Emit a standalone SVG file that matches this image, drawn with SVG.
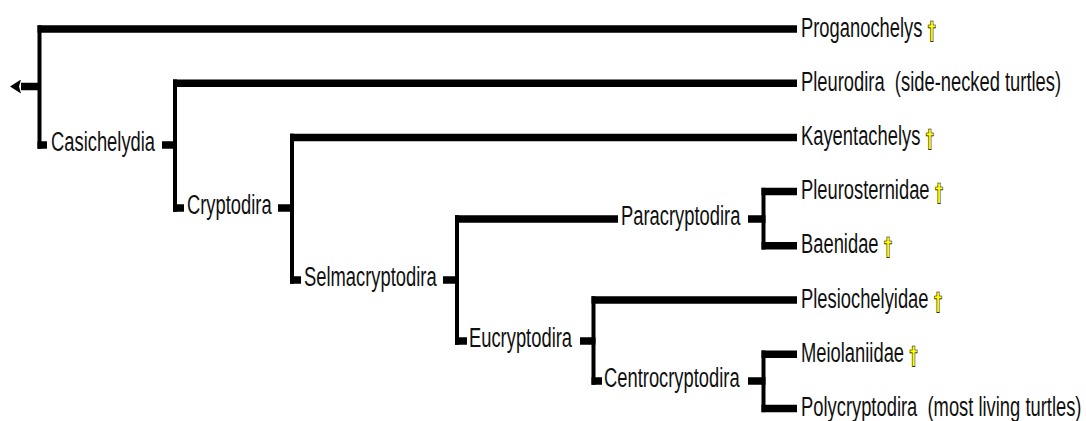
<svg xmlns="http://www.w3.org/2000/svg" width="1086" height="421" viewBox="0 0 1086 421">
<style>
  .bg { fill: #ffffff; }
  .h { fill: none; stroke: #000; stroke-width: 7.5; stroke-linecap: butt; }
  .v { fill: none; stroke: #000; stroke-width: 4; stroke-linecap: butt; }
  text { font-family: "Liberation Sans", Arial, sans-serif; font-size: 27px; fill: #111; }
  .dag { font-family: "DejaVu Sans", sans-serif; font-weight: bold; font-size: 24px; fill: #ffff00; stroke: #000; stroke-width: 0.7px; }
</style>
<defs>
  <marker id="arrow" markerUnits="userSpaceOnUse" markerWidth="11" markerHeight="14" viewBox="0 0 11 14" refX="0" refY="7" orient="auto">
    <path d="M0,0 L11,7 L0,14 L2,7 Z" fill="#000"/>
  </marker>
</defs>
<rect class="bg" x="0" y="0" width="1086" height="421"/>
<g id="connectors">
  <path class="h" d="M39.5,86.5 H21" marker-end="url(#arrow)"/>
  <path class="v" d="M39.5,25.25 V148.75"/>
  <path class="h" d="M37.5,29 H797"/>
  <path class="h" d="M37.5,145 H47"/>
  <path class="h" d="M162,145 H177"/>
  <path class="v" d="M175,79.45 V211.75"/>
  <path class="h" d="M173,83.2 H797"/>
  <path class="h" d="M173,208 H184"/>
  <path class="h" d="M278,208 H294"/>
  <path class="v" d="M292,133.65 V283.75"/>
  <path class="h" d="M290,137.4 H797"/>
  <path class="h" d="M290,280 H301"/>
  <path class="h" d="M443,280 H459"/>
  <path class="v" d="M457,215.25 V344.75"/>
  <path class="h" d="M455,219 H618"/>
  <path class="h" d="M455,341 H467"/>
  <path class="h" d="M748,219 H765.5"/>
  <path class="v" d="M763.5,187.85 V249.55"/>
  <path class="h" d="M761.5,191.6 H797"/>
  <path class="h" d="M761.5,245.8 H797"/>
  <path class="h" d="M580,341 H595.5"/>
  <path class="v" d="M593.5,296.25 V384.75"/>
  <path class="h" d="M591.5,300 H797"/>
  <path class="h" d="M591.5,381 H602"/>
  <path class="h" d="M748,381 H765.5"/>
  <path class="v" d="M763.5,350.45 V412.15"/>
  <path class="h" d="M761.5,354.2 H797"/>
  <path class="h" d="M761.5,408.4 H797"/>
</g>
<g id="node-proganochelys"><text transform="translate(801,36.5) scale(0.68,1)">Proganochelys<tspan class="dag" dx="8" dy="2">†</tspan></text></g>
<g id="node-pleurodira"><text transform="translate(801,90.7) scale(0.68,1)" xml:space="preserve">Pleurodira  (side-necked turtles)</text></g>
<g id="node-kayentachelys"><text transform="translate(801,145) scale(0.68,1)">Kayentachelys<tspan class="dag" dx="8" dy="2">†</tspan></text></g>
<g id="node-pleurosternidae"><text transform="translate(801,199) scale(0.68,1)">Pleurosternidae<tspan class="dag" dx="8" dy="2">†</tspan></text></g>
<g id="node-baenidae"><text transform="translate(801,253.3) scale(0.68,1)">Baenidae<tspan class="dag" dx="8" dy="2">†</tspan></text></g>
<g id="node-plesiochelyidae"><text transform="translate(801,307.5) scale(0.68,1)">Plesiochelyidae<tspan class="dag" dx="8" dy="2">†</tspan></text></g>
<g id="node-meiolaniidae"><text transform="translate(801,361.7) scale(0.68,1)">Meiolaniidae<tspan class="dag" dx="8" dy="2">†</tspan></text></g>
<g id="node-polycryptodira"><text transform="translate(801,416) scale(0.68,1)" xml:space="preserve">Polycryptodira  (most living turtles)</text></g>
<g id="node-casichelydia"><text transform="translate(51,151) scale(0.68,1)">Casichelydia</text></g>
<g id="node-cryptodira"><text transform="translate(187,214) scale(0.68,1)">Cryptodira</text></g>
<g id="node-selmacryptodira"><text transform="translate(304,286) scale(0.68,1)">Selmacryptodira</text></g>
<g id="node-paracryptodira"><text transform="translate(621,225) scale(0.68,1)">Paracryptodira</text></g>
<g id="node-eucryptodira"><text transform="translate(469,347) scale(0.68,1)">Eucryptodira</text></g>
<g id="node-centrocryptodira"><text transform="translate(604,387) scale(0.68,1)">Centrocryptodira</text></g>
</svg>
